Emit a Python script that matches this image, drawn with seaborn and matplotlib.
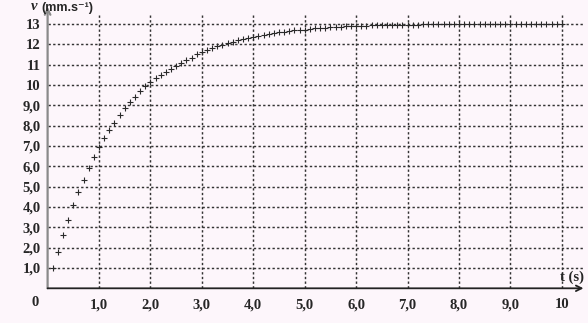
import matplotlib
matplotlib.use("Agg")
import matplotlib.pyplot as plt
import seaborn as sns
import pandas as pd

# ---- data ----
t_values = [0.1, 0.2, 0.3, 0.4, 0.5, 0.6, 0.7, 0.8, 0.9, 1.0,
            1.1, 1.2, 1.3, 1.4, 1.5, 1.6, 1.7, 1.8, 1.9, 2.0,
            2.1, 2.2, 2.3, 2.4, 2.5, 2.6, 2.7, 2.8, 2.9, 3.0,
            3.1, 3.2, 3.3, 3.4, 3.5, 3.6, 3.7, 3.8, 3.9, 4.0,
            4.1, 4.2, 4.3, 4.4, 4.5, 4.6, 4.7, 4.8, 4.9, 5.0,
            5.1, 5.2, 5.3, 5.4, 5.5, 5.6, 5.7, 5.8, 5.9, 6.0,
            6.1, 6.2, 6.3, 6.4, 6.5, 6.6, 6.7, 6.8, 6.9, 7.0,
            7.1, 7.2, 7.3, 7.4, 7.5, 7.6, 7.7, 7.8, 7.9, 8.0,
            8.1, 8.2, 8.3, 8.4, 8.5, 8.6, 8.7, 8.8, 8.9, 9.0,
            9.1, 9.2, 9.3, 9.4, 9.5, 9.6, 9.7, 9.8, 9.9, 10.0]
v_values = [1.0, 1.8, 2.6, 3.35, 4.1, 4.75, 5.35, 5.9, 6.45, 6.95,
            7.4, 7.8, 8.15, 8.5, 8.85, 9.15, 9.4, 9.7, 9.95, 10.15,
            10.35, 10.5, 10.65, 10.8, 10.95, 11.1, 11.25, 11.35, 11.5, 11.6,
            11.7, 11.8, 11.9, 11.95, 12.05, 12.1, 12.2, 12.25, 12.3, 12.35,
            12.4, 12.45, 12.5, 12.55, 12.6, 12.6, 12.65, 12.7, 12.7, 12.72,
            12.75, 12.78, 12.8, 12.82, 12.84, 12.85, 12.87, 12.88, 12.89, 12.9,
            12.91, 12.92, 12.93, 12.94, 12.94, 12.95, 12.95, 12.96, 12.96, 12.97,
            12.97, 12.97, 12.98, 12.98, 12.98, 12.98, 12.99, 12.99, 12.99, 12.99,
            12.99, 12.99, 13.0, 13.0, 13.0, 13.0, 13.0, 13.0, 13.0, 13.0,
            13.0, 13.0, 13.0, 13.0, 13.0, 13.0, 13.0, 13.0, 13.0, 13.0]
x_ticks = [1, 2, 3, 4, 5, 6, 7, 8, 9, 10]
x_tick_labels = ["1,0", "2,0", "3,0", "4,0", "5,0", "6,0", "7,0", "8,0", "9,0", "10"]
y_ticks = [1, 2, 3, 4, 5, 6, 7, 8, 9, 10, 11, 12, 13]
y_tick_labels = ["1,0", "2,0", "3,0", "4,0", "5,0", "6,0", "7,0", "8,0", "9,0",
                 "10", "11", "12", "13"]

df = pd.DataFrame({"t": t_values, "v": v_values})

sns.set_style("white")
plt.rcParams["font.family"] = ["Liberation Serif", "DejaVu Serif"]

W, H = 588, 323
bg = "#fdf6fb"
fig = plt.figure(figsize=(W / 100, H / 100), dpi=100, facecolor=bg)
x0, x1 = 47.6, 585.0
ytop, ybot = 5.7, 288.3
ax = fig.add_axes([x0 / W, (H - ybot) / H, (x1 - x0) / W, (ybot - ytop) / H])
ax.set_facecolor(bg)
ax.set_xlim(0, 10.45)
ax.set_ylim(0, 13.9)
for s in ax.spines.values():
    s.set_visible(False)

# grid
dash = (0, (1.6, 1.6))
ax.hlines(y_ticks, 0, 10.45, colors="#333333", linestyles=dash, linewidth=1.05, zorder=1)
ax.vlines(x_ticks, 0, 13.55, colors="#333333", linestyles=dash, linewidth=1.05, zorder=1)

# data points
sns.scatterplot(data=df, x="t", y="v", marker="+", s=13, linewidth=0.8,
                color="#2a2a2a", ax=ax, zorder=3, legend=False)
ax.set_xlabel("")
ax.set_ylabel("")

# ticks
ax.set_xticks(x_ticks)
ax.set_xticklabels(x_tick_labels, fontweight="bold", fontsize=10.5)
ax.set_yticks(y_ticks)
ax.set_yticklabels(y_tick_labels, fontweight="bold", fontsize=10.5)
ax.tick_params(axis="x", length=0, pad=7)
ax.tick_params(axis="y", length=0, pad=5)

# axes with arrows
ax.annotate("", xy=(0, 13.85), xytext=(0, 0),
            arrowprops=dict(arrowstyle="->", color="#8a8a8a", lw=1.6,
                            shrinkA=0, shrinkB=0), annotation_clip=False)
ax.annotate("", xy=(10.42, 0), xytext=(0, 0),
            arrowprops=dict(arrowstyle="->", color="#222222", lw=1.3,
                            shrinkA=0, shrinkB=0), annotation_clip=False)

# texts
ax.text(-0.245, -0.72, "0", ha="center", va="center", fontweight="bold", fontsize=10.5)
fig.text(31 / W, 1 - 10.5 / H, "v", ha="left", va="baseline", fontsize=10.5,
         fontstyle="italic", fontweight="bold", family=["Liberation Serif", "DejaVu Serif"])
fig.text(41 / W, 1 - 10.5 / H, "(mm.s⁻¹)", ha="left", va="baseline", fontsize=9,
         fontweight="bold", family=["Liberation Sans", "DejaVu Sans"])
fig.text(560 / W, 1 - 277 / H, "t (s)", ha="left", va="center", fontsize=10.5,
         fontweight="bold")

fig.savefig("out.png", dpi=100, facecolor=bg)
